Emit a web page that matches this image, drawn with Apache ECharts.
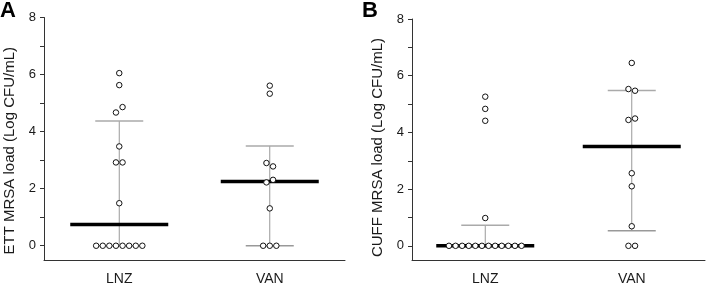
<!DOCTYPE html>
<html>
<head>
<meta charset="utf-8">
<script src="https://cdn.jsdelivr.net/npm/echarts@6/dist/echarts.min.js"></script>
<style>
  html, body { margin: 0; padding: 0; background: #fff; }
  #main { width: 709px; height: 286px; }
</style>
</head>
<body>
<div id="main"></div>
<script>
// groups on the x axis
var categories = ['LNZ', 'VAN'];

// panel A: ETT MRSA load, individual points (Log CFU/mL)
var ettLnz = [6.05, 5.63, 4.67, 4.86, 3.48, 2.92, 2.92, 1.49, 0, 0, 0, 0, 0, 0, 0, 0];
var ettVan = [5.61, 5.33, 2.9, 2.78, 2.22, 2.31, 1.31, 0, 0, 0];
var ettMedian = [0.74, 2.25];
var ettLower = [0, 0];
var ettUpper = [4.37, 3.5];

// panel B: CUFF MRSA load
var cuffLnz = [5.26, 4.83, 4.41, 0.98, 0, 0, 0, 0, 0, 0, 0, 0, 0, 0, 0, 0];
var cuffVan = [6.45, 5.53, 5.47, 4.44, 4.49, 2.56, 2.1, 0.69, 0, 0];
var cuffMedian = [0, 3.5];
var cuffLower = [0, 0.53];
var cuffUpper = [0.73, 5.48];

// y axis ticks / labels
var yTicks = [0, 1, 2, 3, 4, 5, 6, 7, 8];
var yLabels = [0, 2, 4, 6, 8];

var FONT = 'Liberation Sans, Arial, sans-serif';

// spread points that sit on (almost) the same value side by side
function swarm(vals, cat) {
	var out = [];
	var i = 0;
	while (i < vals.length) {
		var j = i + 1;
		while (j < vals.length && Math.abs(vals[j] - vals[i]) < 0.25) j++;
		var n = j - i;
		for (var k = i; k < j; k++) {
			out.push({ value: [cat, vals[k]], symbolOffset: [(k - i - (n - 1) / 2) * 6.6, 0] });
		}
		i = j;
	}
	return out;
}

function statsData(med, lo, hi) {
	return categories.map(function(c, i) { return [i, med[i], lo[i], hi[i]]; });
}

function renderStats(params, api) {
	var x = api.value(0);
	var med = api.coord([x, api.value(1)]);
	var lo = api.coord([x, api.value(2)]);
	var hi = api.coord([x, api.value(3)]);
	return {
		type: 'group',
		children: [
			{ type: 'line', shape: { x1: lo[0], y1: lo[1], x2: hi[0], y2: hi[1] }, style: { stroke: '#999', lineWidth: 1 } },
			{ type: 'line', shape: { x1: hi[0] - 24, y1: hi[1], x2: hi[0] + 24, y2: hi[1] }, style: { stroke: '#aaa', lineWidth: 1.5 } },
			{ type: 'line', shape: { x1: lo[0] - 24, y1: lo[1], x2: lo[0] + 24, y2: lo[1] }, style: { stroke: '#999', lineWidth: 1.5 } },
			{ type: 'line', shape: { x1: med[0] - 49, y1: med[1], x2: med[0] + 49, y2: med[1] }, style: { stroke: '#000', lineWidth: 3.5 } }
		]
	};
}

function xAxis(g) {
	return {
		type: 'category', gridIndex: g, data: categories,
		axisLine: { onZero: false, lineStyle: { color: '#333', width: 1 } },
		axisTick: { show: false },
		axisLabel: { fontSize: 14, margin: 12, color: '#1a1a1a', fontFamily: FONT }
	};
}

function yAxis(g, name, pad) {
	return {
		type: 'value', gridIndex: g, min: -0.5, max: 8,
		axisLine: { show: true, lineStyle: { color: '#333', width: 1 } },
		axisTick: { show: true, length: 4, customValues: yTicks, lineStyle: { color: '#333' } },
		axisLabel: { customValues: yLabels, fontSize: 13, margin: 8, color: '#1a1a1a', fontFamily: FONT },
		splitLine: { show: false },
		name: name, nameLocation: 'middle', nameGap: 27,
		nameTextStyle: { fontSize: 15, color: '#1a1a1a', fontFamily: FONT, padding: [0, pad, 0, 0] }
	};
}

function points(data, g) {
	return {
		type: 'scatter', xAxisIndex: g, yAxisIndex: g, z: 5,
		symbol: 'circle', symbolSize: 5.5,
		itemStyle: { color: '#fff', borderColor: '#111', borderWidth: 1, opacity: 1 },
		data: data
	};
}

var chart = echarts.init(document.getElementById('main'));
chart.setOption({
	animation: false,
	grid: [
		{ left: 44, top: 17.5, width: 301, bottom: 26 },
		{ left: 412, top: 19, right: 4, bottom: 24 }
	],
	xAxis: [xAxis(0), xAxis(1)],
	yAxis: [
		yAxis(0, 'ETT MRSA load (Log CFU/mL)', 24),
		yAxis(1, 'CUFF MRSA load (Log CFU/mL)', 16)
	],
	graphic: [
		{ type: 'text', x: 0, y: 0, style: { text: 'A', font: 'bold 22px ' + FONT, fill: '#000' } },
		{ type: 'text', x: 362, y: 0, style: { text: 'B', font: 'bold 22px ' + FONT, fill: '#000' } }
	],
	series: [
		{ type: 'custom', xAxisIndex: 0, yAxisIndex: 0, z: 2, renderItem: renderStats, data: statsData(ettMedian, ettLower, ettUpper) },
		{ type: 'custom', xAxisIndex: 1, yAxisIndex: 1, z: 2, renderItem: renderStats, data: statsData(cuffMedian, cuffLower, cuffUpper) },
		points(swarm(ettLnz, 0).concat(swarm(ettVan, 1)), 0),
		points(swarm(cuffLnz, 0).concat(swarm(cuffVan, 1)), 1)
	]
});
</script>
</body>
</html>
